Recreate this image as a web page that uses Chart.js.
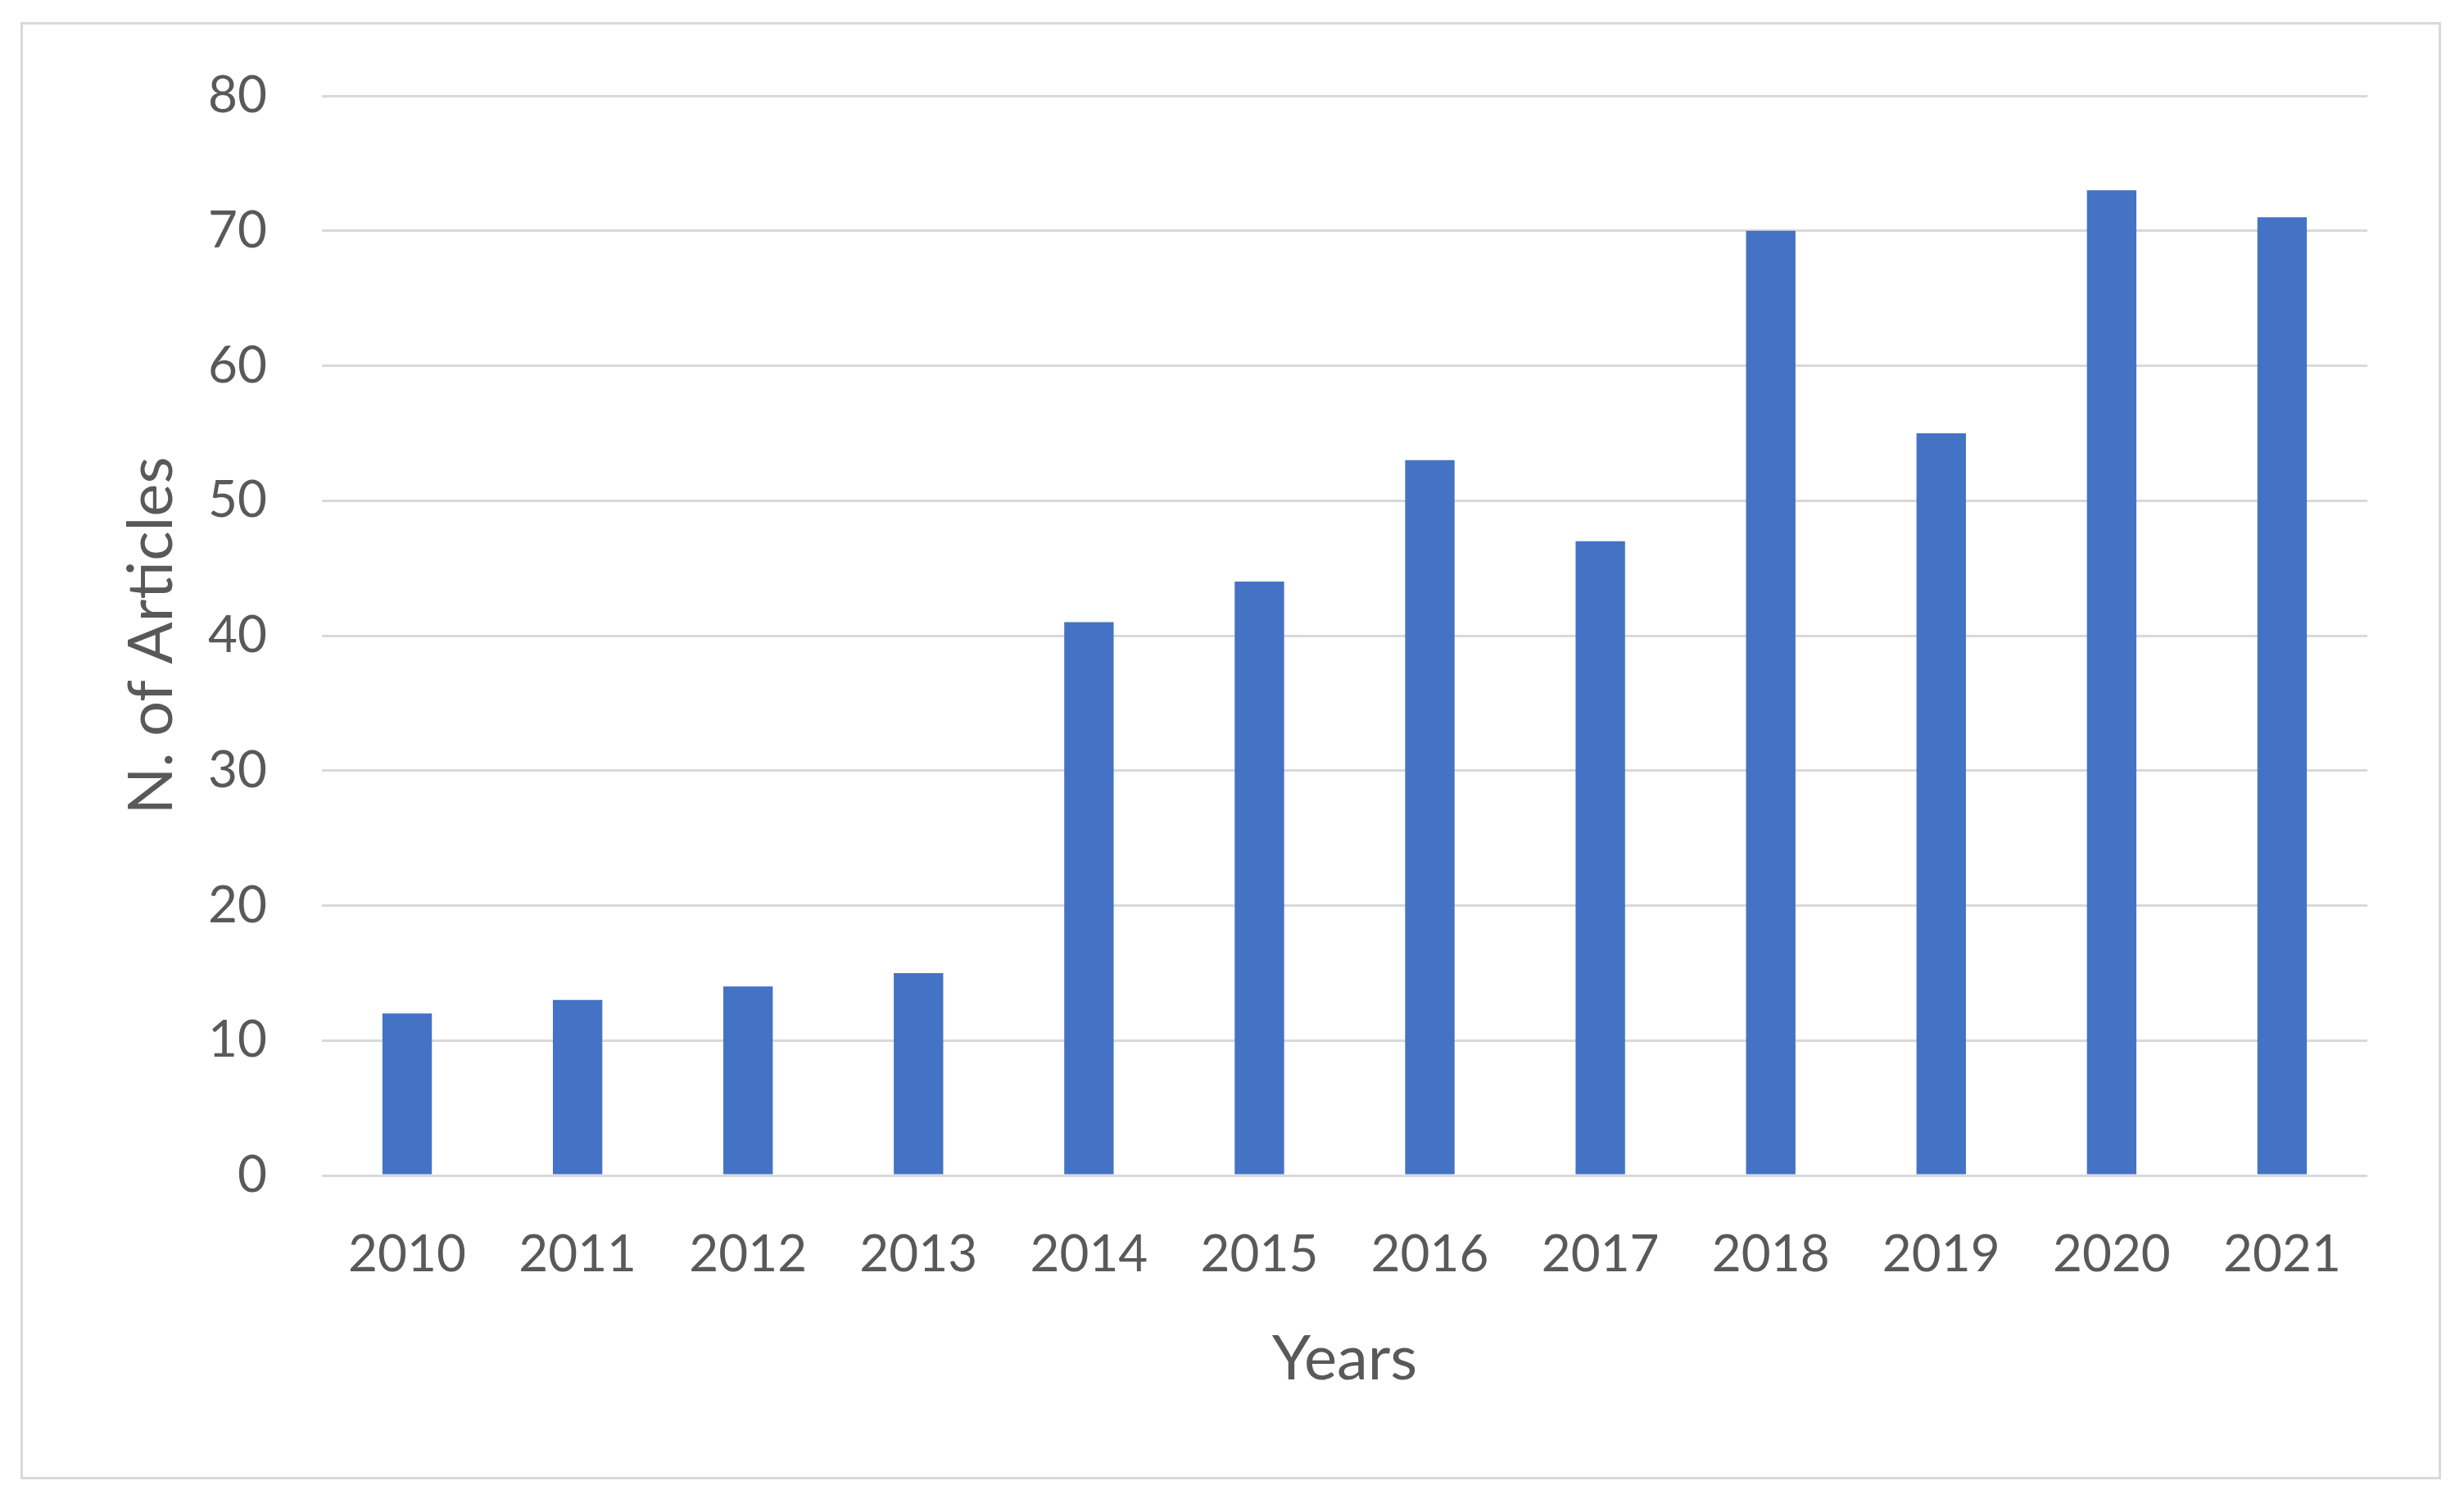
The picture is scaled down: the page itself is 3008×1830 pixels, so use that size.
<!DOCTYPE html>
<html>
<head>
<meta charset="utf-8">
<script src="https://cdn.jsdelivr.net/npm/chart.js@4"></script>
<style>
  html, body { margin: 0; padding: 0; background: #fff; }
  #frame { position: absolute; left: 25px; top: 27px; width: 2949px; height: 1773px; border: 3px solid #d9d9d9; }
  #chart { position: absolute; left: 0; top: 0; }
</style>
</head>
<body>
<div id="frame"></div>
<canvas id="chart" width="3008" height="1830"></canvas>
<script>
// values
var years = ['2010', '2011', '2012', '2013', '2014', '2015', '2016', '2017', '2018', '2019', '2020', '2021']
var articles = [12, 13, 14, 15, 41, 44, 53, 47, 70, 55, 73, 71]

var textColor = '#595959'
var gridColor = '#d9d9d9'

var chart = new Chart(document.getElementById('chart'), {
  type: 'bar',
  data: {
    labels: years,
    datasets: [{
      label: 'N. of Articles',
      data: articles,
      backgroundColor: '#4472c4',
      barPercentage: 0.29,
      categoryPercentage: 1
    }]
  },
  options: {
    responsive: false,
    animation: false,
    layout: { padding: { left: 140, top: 117, right: 118, bottom: 125 } },
    plugins: { legend: { display: false }, tooltip: { enabled: false } },
    scales: {
      x: {
        grid: { display: false },
        border: { display: false },
        ticks: { color: textColor, font: { family: 'Lato', size: 62 }, padding: 52, maxRotation: 0 },
        title: { display: true, text: 'Years', color: textColor, font: { family: 'Lato', size: 76 }, padding: 0 },
        afterFit: function(scale) { scale.height = 270 }
      },
      y: {
        min: 0,
        max: 80,
        ticks: { stepSize: 10, color: textColor, font: { family: 'Lato', size: 62 }, padding: 67 },
        grid: { color: gridColor, lineWidth: 3, drawTicks: false },
        border: { display: false },
        title: { display: true, text: 'N. of Articles', color: textColor, font: { family: 'Lato', size: 76 }, padding: 0 },
        afterFit: function(scale) { scale.width = 253 }
      }
    }
  }
})
</script>
</body>
</html>
